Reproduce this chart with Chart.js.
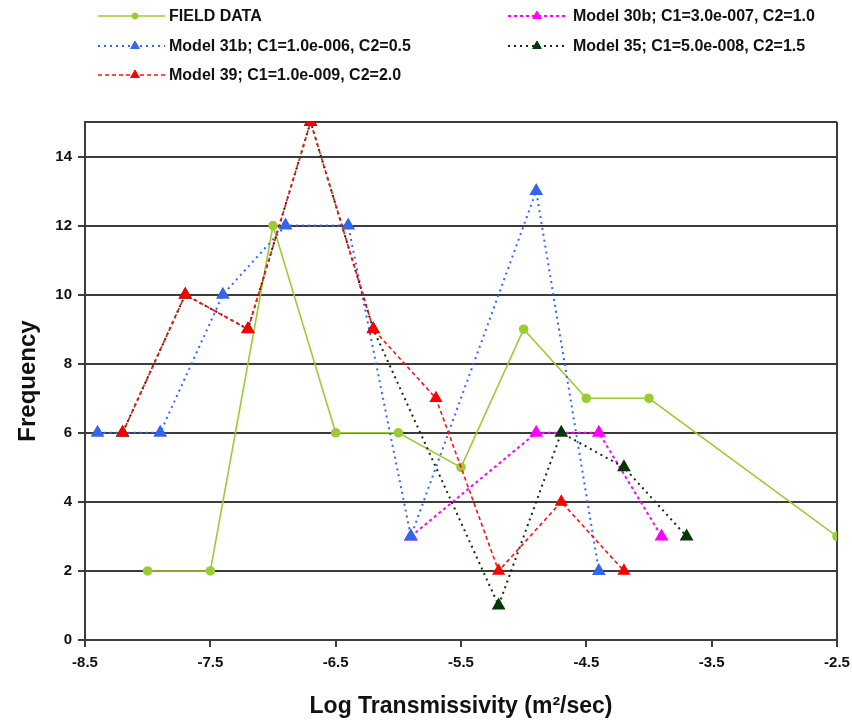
<!DOCTYPE html>
<html>
<head>
<meta charset="utf-8">
<script src="https://cdn.jsdelivr.net/npm/chart.js@4"></script>
<style>
  html, body { margin: 0; padding: 0; background: #fff; }
  #wrap { width: 852px; height: 722px; }
</style>
</head>
<body>
<div id="wrap"><canvas id="c" width="852" height="722"></canvas></div>
<script>
// ---- data ----
const seriesNames = [
  'FIELD DATA',
  'Model 30b; C1=3.0e-007, C2=1.0',
  'Model 31b; C1=1.0e-006, C2=0.5',
  'Model 35; C1=5.0e-008, C2=1.5',
  'Model 39; C1=1.0e-009, C2=2.0'
];
const fieldX = [-8.0, -7.5, -7.0, -6.5, -6.0, -5.5, -5.0, -4.5, -4.0, -2.5];
const fieldY = [2, 2, 12, 6, 6, 5, 9, 7, 7, 3];
const m30bX = [-5.9, -4.9, -4.4, -3.9];
const m30bY = [3, 6, 6, 3];
const m31bX = [-8.4, -7.9, -7.4, -6.9, -6.4, -5.9, -4.9, -4.4];
const m31bY = [6, 6, 10, 12, 12, 3, 13, 2];
const m35X = [-8.2, -7.7, -7.2, -6.7, -6.2, -5.2, -4.7, -4.2, -3.7];
const m35Y = [6, 10, 9, 15, 9, 1, 6, 5, 3];
const m39X = [-8.2, -7.7, -7.2, -6.7, -6.2, -5.7, -5.2, -4.7, -4.2];
const m39Y = [6, 10, 9, 15, 9, 7, 2, 4, 2];
const xTicks = [-8.5, -7.5, -6.5, -5.5, -4.5, -3.5, -2.5];
const yTicks = [0, 2, 4, 6, 8, 10, 12, 14];
const xMin = -8.5, xMax = -2.5, yMin = 0, yMax = 15;
const xTitle = 'Log Transmissivity (m\u00B2/sec)';
const yTitle = 'Frequency';

const pts = (xs, ys) => xs.map((x, i) => ({ x: x, y: ys[i] }));

const GRID = '#3c3c3c';
const TXT = '#111';

const legendPlugin = {
  id: 'colLegend',
  afterDraw(chart) {
    const ctx = chart.ctx;
    // [datasetIndex, lineStartX, lineEndX, markerX, textX, rowY]
    const slots = [
      [0, 98, 165, 135, 169, 16],
      [2, 98, 165, 135, 169, 46],
      [4, 98, 165, 135, 169, 75],
      [1, 508, 567, 537, 573, 16],
      [3, 508, 567, 537, 573, 46]
    ];
    ctx.save();
    slots.forEach(s => {
      const ds = chart.data.datasets[s[0]];
      ctx.save();
      ctx.strokeStyle = ds.borderColor;
      ctx.lineWidth = ds.borderWidth;
      ctx.setLineDash(ds.borderDash || []);
      ctx.beginPath();
      ctx.moveTo(s[1], s[5]);
      ctx.lineTo(s[2], s[5]);
      ctx.stroke();
      ctx.restore();
      ctx.save();
      ctx.fillStyle = ds.pointBackgroundColor;
      ctx.strokeStyle = ds.pointBorderColor;
      ctx.lineWidth = 1;
      ctx.setLineDash([]);
      Chart.helpers.drawPoint(ctx, {
        pointStyle: ds.pointStyle, radius: ds.pointRadius - 1, borderWidth: 1, rotation: 0
      }, s[3], s[5]);
      ctx.restore();
      ctx.fillStyle = TXT;
      ctx.font = 'bold 16px "Liberation Sans", Arial, sans-serif';
      ctx.textBaseline = 'middle';
      ctx.textAlign = 'left';
      ctx.fillText(ds.label, s[4], s[5] + 1);
    });
    ctx.restore();
  }
};

new Chart(document.getElementById('c'), {
  type: 'scatter',
  data: {
    datasets: [
      {
        label: seriesNames[0], data: pts(fieldX, fieldY), showLine: true,
        borderColor: '#9acd32', borderWidth: 1.6, borderDash: [],
        pointStyle: 'circle', pointRadius: 4,
        pointBackgroundColor: '#9acd32', pointBorderColor: '#9acd32', order: 5
      },
      {
        label: seriesNames[1], data: pts(m30bX, m30bY), showLine: true,
        borderColor: '#ff00ff', borderWidth: 2, borderDash: [3, 3],
        pointStyle: 'triangle', pointRadius: 6,
        pointBackgroundColor: '#ff00ff', pointBorderColor: '#ff00ff', order: 4
      },
      {
        label: seriesNames[2], data: pts(m31bX, m31bY), showLine: true,
        borderColor: '#3366ff', borderWidth: 2, borderDash: [2, 4],
        pointStyle: 'triangle', pointRadius: 6,
        pointBackgroundColor: '#3366ee', pointBorderColor: '#3366ee', order: 3
      },
      {
        label: seriesNames[3], data: pts(m35X, m35Y), showLine: true,
        borderColor: '#0a300a', borderWidth: 2, borderDash: [2, 4],
        pointStyle: 'triangle', pointRadius: 6,
        pointBackgroundColor: '#083808', pointBorderColor: '#083808', order: 2
      },
      {
        label: seriesNames[4], data: pts(m39X, m39Y), showLine: true,
        borderColor: '#ff1010', borderWidth: 1.6, borderDash: [4, 3],
        pointStyle: 'triangle', pointRadius: 6,
        pointBackgroundColor: '#ff0000', pointBorderColor: '#ff0000', order: 1
      }
    ]
  },
  options: {
    responsive: false,
    animation: false,
    layout: { padding: { left: 0, top: 122, right: 0, bottom: 0 } },
    plugins: {
      legend: { display: false },
      tooltip: { enabled: false }
    },
    scales: {
      x: {
        type: 'linear', min: xMin, max: xMax,
        afterBuildTicks: s => { s.ticks = xTicks.map(v => ({ value: v })); },
        afterFit: s => { s.height = 82; s.paddingRight = 15; },
        ticks: {
          color: TXT, padding: 7,
          font: { family: '"Liberation Sans", Arial, sans-serif', size: 15, weight: 'bold' },
          callback: v => String(v)
        },
        grid: {
          drawOnChartArea: true,
          color: c => (c.tick && c.tick.value === xMax) ? GRID : 'rgba(0,0,0,0)',
          tickColor: GRID, tickLength: 7, lineWidth: 2
        },
        border: { display: true, color: GRID, width: 2 },
        title: {
          display: true, text: xTitle, color: TXT,
          font: { family: '"Liberation Sans", Arial, sans-serif', size: 23, weight: 'bold' },
          padding: { top: 0, bottom: 2 }
        }
      },
      y: {
        type: 'linear', min: yMin, max: yMax,
        afterBuildTicks: s => { s.ticks = yTicks.concat([yMax]).map(v => ({ value: v })); },
        afterFit: s => { s.width = 85; },
        ticks: {
          color: TXT, padding: 6,
          font: { family: '"Liberation Sans", Arial, sans-serif', size: 15, weight: 'bold' },
          callback: v => yTicks.includes(v) ? String(v) : ''
        },
        grid: {
          color: GRID, tickColor: c => (c.tick && c.tick.value === yMax) ? 'rgba(0,0,0,0)' : GRID,
          tickLength: 7, lineWidth: 2
        },
        border: { display: true, color: GRID, width: 2 },
        title: {
          display: true, text: yTitle, color: TXT,
          font: { family: '"Liberation Sans", Arial, sans-serif', size: 24, weight: 'bold' },
          padding: { top: 14, bottom: 0 }
        }
      }
    }
  },
  plugins: [legendPlugin]
});
</script>
</body>
</html>
